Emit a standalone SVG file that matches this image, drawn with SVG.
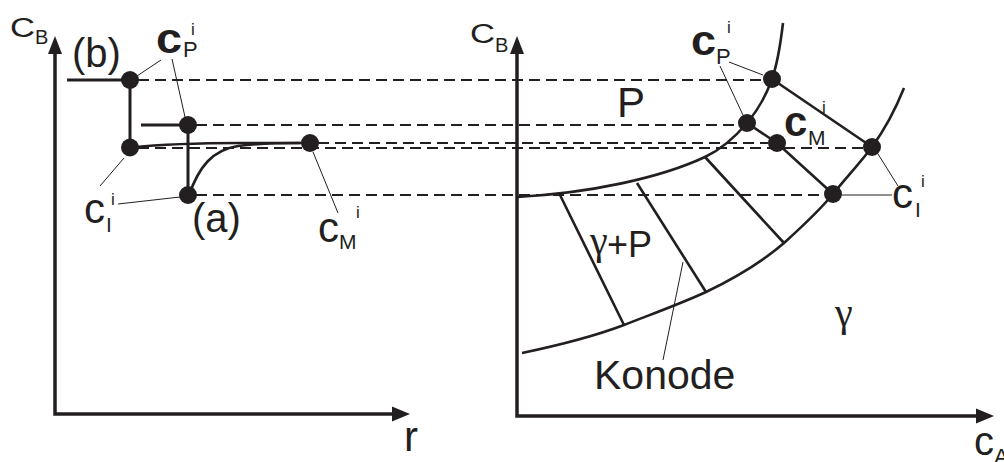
<svg xmlns="http://www.w3.org/2000/svg" width="1004" height="462" viewBox="0 0 1004 462">
<style>
.ax{fill:none;stroke:#231f20;stroke-width:3.5}
.ah{fill:#231f20}
.ln{fill:none;stroke:#231f20;stroke-width:3}
.cv{fill:none;stroke:#231f20;stroke-width:2.6}
.ds{fill:none;stroke:#231f20;stroke-width:2;stroke-dasharray:11 6}
.ld{fill:none;stroke:#231f20;stroke-width:1}
.dot{fill:#231f20}
text{font-family:"Liberation Sans",Arial,sans-serif;fill:#231f20}
.g{font-family:"Liberation Serif","DejaVu Serif",serif}
.b{font-weight:bold}
</style>
<rect width="1004" height="462" fill="#fff"/>
<g id="left-axes">
<path class="ax" d="M55,52 V414 H394"/>
<polygon class="ah" points="55,36 48,54 62,54"/>
<polygon class="ah" points="410,414 392,406.5 392,421.5"/>
</g>
<g id="right-axes">
<path class="ax" d="M517,52 V416 H978"/>
<polygon class="ah" points="517,36 510,54 524,54"/>
<polygon class="ah" points="994,416 976,408.5 976,423.5"/>
</g>
<g id="connectors">
<path class="ds" d="M138,80 H763 M196,125 H738 M318,143 H768 M138,148 H863 M196,195 H824"/>
<path class="ln" d="M67,80 H130 V147.5 M141,125 H188 V195"/>
<path class="cv" d="M130,147.5 C165,144 200,143 240,143 L310,143"/>
<path class="cv" d="M189,195 C199,167 212,150 238,146 C258,143.5 280,143 300,143"/>
<path class="cv" d="M517,197 C590,193 660,178 705,157 C720,150 736,136 747,123 C758,110 766,96 772,79 C778,62 781,40 783,23"/>
<path class="cv" d="M522,353 C560,345 595,336 624,325 C652,314 680,304 706,292 C735,278 762,262 784,243 C805,224 820,210 833,194 C846,178 860,163 872,147 C885,129 896,108 904,88"/>
<path class="cv" d="M560,195 L624,325 M637,183 L706,292 M705,157 L784,243 M747,123 L777,143 L833,194 M772,79 L872,147"/>
<path class="ld" d="M161,60 L137,76 M172,59 L185,117 M100,186 L124,158 M118,204 L180,197 M313,152 L338,213 M729,62 L763,75 M720,66 L743,115 M898,186 L878,154 M842,195 L892,195 M683,262 L663,360"/>
</g>
<g id="points-left">
<circle class="dot" cx="130" cy="80" r="9"/>
<circle class="dot" cx="130" cy="147.5" r="9"/>
<circle class="dot" cx="188" cy="125" r="9"/>
<circle class="dot" cx="188" cy="195" r="9"/>
<circle class="dot" cx="310" cy="143" r="9"/>
</g>
<g id="points-right">
<circle class="dot" cx="772" cy="79" r="9"/>
<circle class="dot" cx="747" cy="123" r="9"/>
<circle class="dot" cx="777" cy="143" r="9"/>
<circle class="dot" cx="872" cy="147" r="9"/>
<circle class="dot" cx="833" cy="194" r="9"/>
</g>
<g id="labels-left">
<text x="10" y="37" font-size="27" textLength="25" lengthAdjust="spacingAndGlyphs">C</text>
<text x="35" y="44" font-size="20">B</text>
<text x="72" y="67" font-size="40">(b)</text>
<text x="192" y="232" font-size="40">(a)</text>
<text x="156" y="53" font-size="42" class="b" textLength="26" lengthAdjust="spacingAndGlyphs">c</text>
<text x="183" y="57" font-size="22">P</text>
<text x="191" y="35" font-size="17">i</text>
<text x="84" y="223" font-size="42">c</text>
<text x="106" y="232" font-size="21">I</text>
<text x="111" y="205" font-size="17">i</text>
<text x="318" y="242" font-size="42">c</text>
<text x="339" y="249" font-size="21">M</text>
<text x="356" y="218" font-size="17">i</text>
<text x="404" y="451" font-size="42">r</text>
</g>
<g id="labels-right">
<text x="470" y="43" font-size="27" textLength="25" lengthAdjust="spacingAndGlyphs">C</text>
<text x="495" y="52" font-size="20">B</text>
<text x="691" y="55" font-size="42" class="b" textLength="25" lengthAdjust="spacingAndGlyphs">c</text>
<text x="716" y="64" font-size="22">P</text>
<text x="727" y="33" font-size="17">i</text>
<text x="784" y="136" font-size="42" class="b">c</text>
<text x="808" y="145" font-size="21">M</text>
<text x="822" y="113" font-size="17">i</text>
<text x="892" y="208" font-size="42">c</text>
<text x="915" y="217" font-size="21">I</text>
<text x="921" y="187" font-size="17">i</text>
<text x="617" y="117" font-size="42">P</text>
<text x="590" y="254" font-size="40" class="g">γ</text>
<text x="607" y="257" font-size="36">+P</text>
<text x="835" y="326" font-size="40" class="g">γ</text>
<text x="594" y="389" font-size="41">Konode</text>
<text x="974" y="455" font-size="40">c</text>
<text x="994" y="464" font-size="22">A</text>
</g>
</svg>
